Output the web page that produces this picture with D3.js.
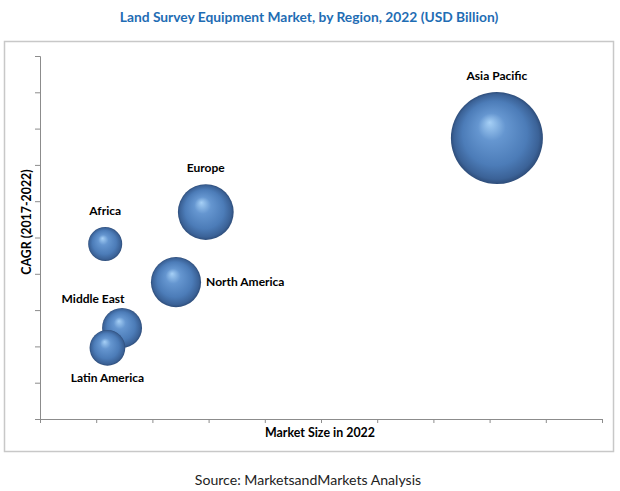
<!DOCTYPE html>
<html>
<head>
<meta charset="utf-8">
<script src="https://cdn.jsdelivr.net/npm/d3@7"></script>
<style>
  html, body { margin: 0; padding: 0; background: #fff; }
  svg { display: block; }
</style>
</head>
<body>
<svg id="chart" width="620" height="491"></svg>
<script>
const regions = ["Asia Pacific", "Europe", "Africa", "North America", "Middle East", "Latin America"];
const marketSize = [8.13, 2.95, 1.16, 2.42, 1.46, 1.20];   // x position (axis units)
const cagr = [7.74, 5.70, 4.82, 3.77, 2.51, 1.96];         // y position (axis units)
const bubbleSize = [21.2, 7.8, 2.9, 6.3, 4.0, 3.2];        // relative bubble size
const xTicks = d3.range(0, 11);
const yTicks = d3.range(0, 11);

const svg = d3.select("#chart");

// frame
svg.append("rect").attr("x", 4.5).attr("y", 41.5).attr("width", 609).attr("height", 410)
  .attr("fill", "#fff").attr("stroke", "#c8c8c8").attr("stroke-width", 1.5);

// title
svg.append("text").attr("x", 309).attr("y", 22).attr("text-anchor", "middle")
  .attr("font-family", "Lato, 'Open Sans', sans-serif").attr("font-weight", "bold")
  .attr("font-size", 13.8).attr("fill", "#1f6db4")
  .text("Land Survey Equipment Market, by Region, 2022 (USD Billion)");

const x = d3.scaleLinear().domain([0, 10]).range([40, 602]);
const y = d3.scaleLinear().domain([0, 10]).range([419, 56]);
const r = d3.scaleSqrt().domain([0, d3.max(bubbleSize)]).range([0, 46]);

// axes
const xAxis = d3.axisBottom(x).tickValues(xTicks).tickSize(4).tickFormat("");
const yAxis = d3.axisLeft(y).tickValues(yTicks).tickSize(5).tickFormat("");
const gx = svg.append("g").attr("transform", `translate(0,${y(0)})`).call(xAxis);
const gy = svg.append("g").attr("transform", `translate(${x(0)},0)`).call(yAxis);
[gx, gy].forEach(g => {
  g.select(".domain").attr("stroke", "#8c8c8c");
  g.selectAll(".tick line").attr("stroke", "#8c8c8c");
});

// axis titles
svg.append("text").attr("x", 320).attr("y", 437).attr("text-anchor", "middle")
  .attr("font-family", "Lato, sans-serif").attr("font-weight", "bold").attr("font-size", 12.4)
  .attr("fill", "#000").text("Market Size in 2022");
svg.append("text").attr("transform", "translate(31,222) rotate(-90)").attr("text-anchor", "middle")
  .attr("font-family", "Lato, sans-serif").attr("font-weight", "bold").attr("font-size", 12.4)
  .attr("fill", "#000").text("CAGR (2017-2022)");

// gradient
const defs = svg.append("defs");
const grad = defs.append("radialGradient").attr("id", "sphere")
  .attr("cx", "50%").attr("cy", "50%").attr("r", "50%")
  .attr("fx", "42%").attr("fy", "33%");
grad.append("stop").attr("offset", "0%").attr("stop-color", "#a6d0f6");
grad.append("stop").attr("offset", "30%").attr("stop-color", "#6596d0");
grad.append("stop").attr("offset", "70%").attr("stop-color", "#4c7cb8");
grad.append("stop").attr("offset", "92%").attr("stop-color", "#3b6297");
grad.append("stop").attr("offset", "100%").attr("stop-color", "#2e4d7a");

const data = regions.map((name, i) => ({name, x: marketSize[i], y: cagr[i], s: bubbleSize[i]}));

svg.append("g").selectAll("circle").data(data).join("circle")
  .attr("cx", d => x(d.x)).attr("cy", d => y(d.y)).attr("r", d => r(d.s))
  .attr("fill", "url(#sphere)");

// labels
const labelPos = {
  "Asia Pacific": {dx: 0, gap: 12, anchor: "middle", side: "top"},
  "Europe": {dx: 0, gap: 12, anchor: "middle", side: "top"},
  "Africa": {dx: 0, gap: 12, anchor: "middle", side: "top"},
  "North America": {anchor: "start", side: "right"},
  "Middle East": {dx: -29, gap: 5, anchor: "middle", side: "top"},
  "Latin America": {dx: 0, anchor: "middle", side: "bottom"}
};
svg.append("g").selectAll("text").data(data).join("text")
  .attr("font-family", "Lato, sans-serif").attr("font-weight", "bold").attr("font-size", 12)
  .attr("fill", "#000")
  .attr("text-anchor", d => labelPos[d.name].anchor)
  .attr("x", d => {
    const p = labelPos[d.name];
    if (p.side === "right") return x(d.x) + r(d.s) + 5;
    return x(d.x) + (p.dx || 0);
  })
  .attr("y", d => {
    const p = labelPos[d.name];
    if (p.side === "top") return y(d.y) - r(d.s) - p.gap;
    if (p.side === "bottom") return y(d.y) + r(d.s) + 16;
    return y(d.y) + 4;
  })
  .text(d => d.name);

// source
svg.append("text").attr("x", 308).attr("y", 485).attr("text-anchor", "middle")
  .attr("font-family", "Lato, sans-serif").attr("font-size", 14.1).attr("fill", "#222")
  .text("Source: MarketsandMarkets Analysis");
</script>
</body>
</html>
